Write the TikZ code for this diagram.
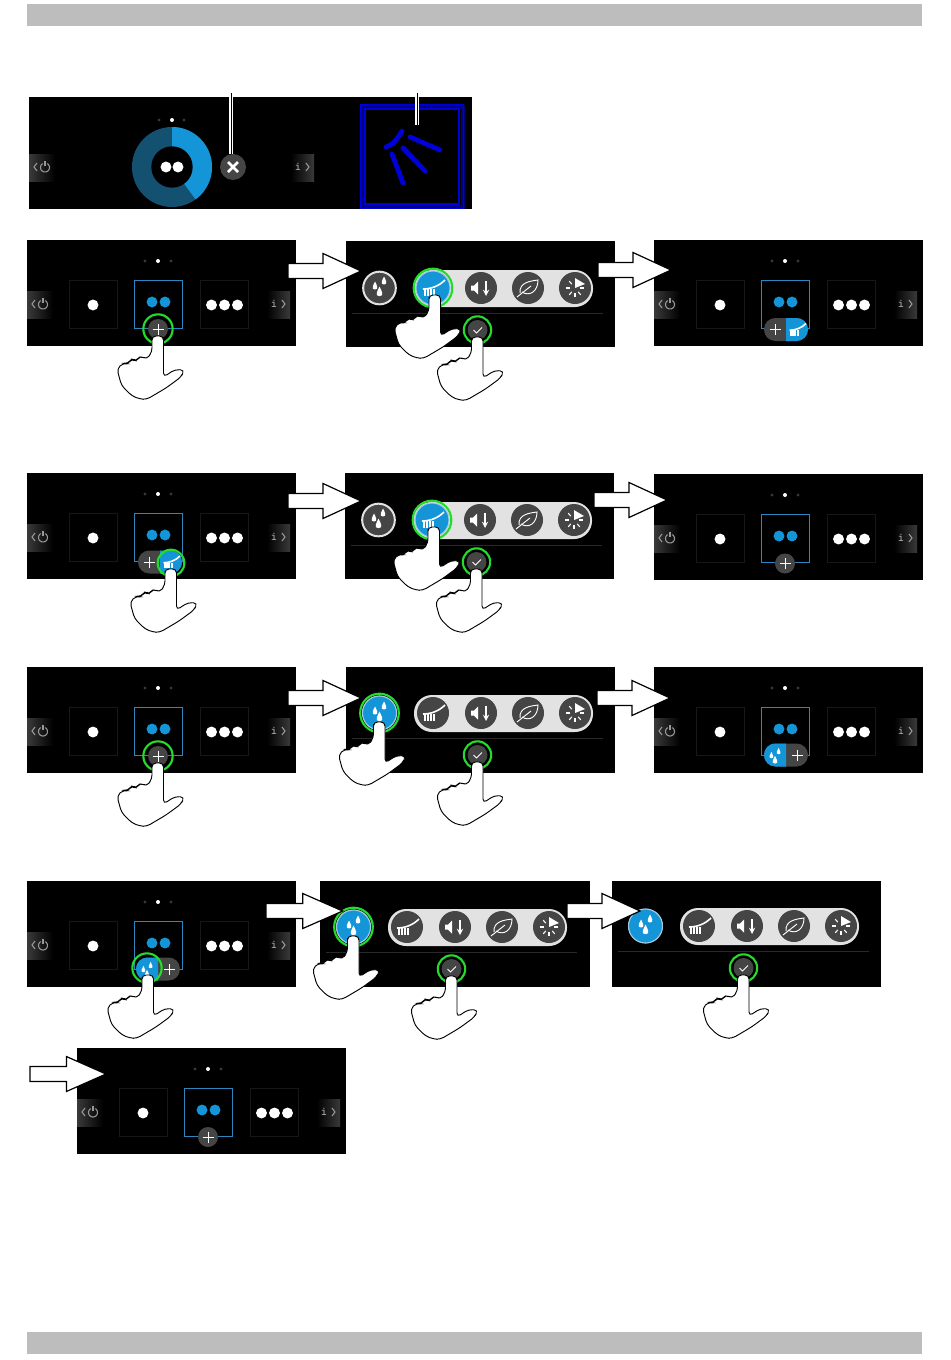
\documentclass[tikz,border=0pt]{standalone}
\usetikzlibrary{arrows, calc}
\definecolor{bargray}{HTML}{BDBDBD}
\definecolor{btngray}{HTML}{454545}
\definecolor{pillgray}{HTML}{E2E2E2}
\definecolor{tabgray}{HTML}{3A3A3A}
\definecolor{iconblue}{HTML}{1495D8}
\definecolor{darkblue}{HTML}{14506F}
\definecolor{tileblue}{HTML}{2F86BE}
\definecolor{ringgreen}{HTML}{25DB2C}
\definecolor{markblue}{HTML}{0000D8}
\tikzstyle{panelbody} = [rectangle, fill=black, anchor=north west, inner sep=0pt, minimum width=201.75pt, minimum height=79.5pt]
\tikzstyle{tile} = [rectangle, draw=white!9!black, line width=0.6pt, inner sep=0pt, minimum size=36pt]
\tikzstyle{midtile} = [tile, draw=tileblue, line width=0.9pt, minimum size=36.5pt]
\tikzstyle{dot} = [circle, fill=white, inner sep=0pt, minimum size=8.2pt]
\tikzstyle{bluedot} = [dot, fill=iconblue]
\tikzstyle{pagedot} = [circle, fill=white!22!black, inner sep=0pt, minimum size=2.5pt]
\tikzstyle{roundbtn} = [circle, fill=btngray, inner sep=0pt, minimum size=15pt]
\tikzstyle{iconbtn} = [circle, fill=btngray, inner sep=0pt, minimum size=24pt]
\tikzstyle{waterbtn} = [iconbtn, draw=pillgray, line width=1.5pt, minimum size=24.5pt]
\tikzstyle{bluebtn} = [iconbtn, fill=iconblue, draw=pillgray!70!iconblue, line width=0.8pt, minimum size=25.5pt]
\tikzstyle{ring} = [circle, draw=ringgreen, line width=1.6pt, inner sep=0pt, minimum size=22pt]
\tikzstyle{bigring} = [ring, minimum size=29pt]
\tikzstyle{smallring} = [ring, minimum size=20.5pt]
\tikzstyle{glyph} = [white, line width=0.7pt]
\tikzstyle{leader} = [black, line width=0.75pt, preaction={draw=white, line width=2.8pt}]
\tikzset{
  lefttab/.pic={
    \shade[left color=tabgray, right color=black] (0,0) rectangle (26,27);
    \draw[white!60!black, line width=0.8pt] (8,9) -- (5,13) -- (8,17);
    \draw[white!60!black, line width=0.8pt] plot[domain=-60:240, samples=20] ({16+4.5*cos(\x)},{13.5+4.5*sin(\x)});
    \draw[white!60!black, line width=0.8pt] (16,7) -- (16,12);
  },
  righttab/.pic={
    \shade[left color=black, right color=tabgray] (0,0) rectangle (23,27);
    \node (-info) [text=white!70!black, font=\ttfamily\small, inner sep=0pt] at (7,13) {i};
    \draw[white!60!black, line width=0.8pt] (15,9) -- (18,13) -- (15,17);
  },
  plusglyph/.pic={
    \draw[glyph] (-5.5,0) -- (5.5,0) (0,-5.5) -- (0,5.5);
  },
  checkglyph/.pic={
    \draw[glyph] (-4,0) -- (-1,3) -- (4.5,-2.5);
  },
  dropsglyph/.pic={
    \foreach \dx/\dy/\ds in {0/4/1.2, -4.5/-2/1, 4.5/-7/1} {
      \fill[white] (\dx,\dy-4.5*\ds) .. controls (\dx+1.5*\ds,\dy-1.5*\ds) and (\dx+4.5*\ds,\dy+3.5*\ds) .. (\dx,\dy+3.5*\ds) .. controls (\dx-4.5*\ds,\dy+3.5*\ds) and (\dx-1.5*\ds,\dy-1.5*\ds) .. cycle;
    }
  },
  brushglyph/.pic={
    \draw[white, line width=1.2pt] (-10,1) .. controls (-2,1) and (6,-2) .. (12,-8);
    \foreach \bx in {-9,-7.5,...,2} {
      \draw[white, line width=0.6pt] (\bx,1) -- (\bx,8);
    }
  },
  soundglyph/.pic={
    \fill[white] (-10,-2.5) -- (-7,-2.5) -- (-3,-6.5) -- (-3,6.5) -- (-7,2.5) -- (-10,2.5) -- cycle;
    \draw[white, line width=1.1pt, ->, >=stealth] (5,-7) -- (5,8);
  },
  leafglyph/.pic={
    \draw[glyph] (-8,5) .. controls (-9,-6) and (3,-7) .. (10,-8) .. controls (10,3) and (2,9) .. (-6,4);
    \draw[glyph] (-11,9) -- (3,-2);
  },
  speedglyph/.pic={
    \fill[white] (0,-10) -- (10,-4) -- (0,0) -- cycle;
    \foreach \ang in {0,50,90,130,180,230} {
      \draw[white, line width=0.8pt] ({5*cos(\ang)},{5*sin(\ang)}) -- ({9*cos(\ang)},{9*sin(\ang)});
    }
  },
  homepanel/.pic={
    \node (-body) [panelbody] at (0,0) {};
    \node (-page1) [pagedot] at (118,21) {};
    \node (-page2) [pagedot, fill=white, minimum size=3pt] at (131,21) {};
    \node (-page3) [pagedot] at (144,21) {};
    \pic at (0,51) {lefttab};
    \pic at (240,51) {righttab};
    \node (-one) [tile] at (66,64.5) {};
    \node (-two) [midtile] at (131.5,64.5) {};
    \node (-three) [tile] at (197,64.5) {};
    \node (-d1) [dot] at (66,65) {};
    \node (-d2) [bluedot] at (125,62) {};
    \node (-d3) [bluedot] at (138,62) {};
    \node (-d4) [dot] at (184.5,65) {};
    \node (-d5) [dot] at (197.5,65) {};
    \node (-d6) [dot] at (210.5,65) {};
  },
  plusbtn/.pic={
    \node (-btn) [roundbtn] at (0,0) {};
    \pic at (0,0) {plusglyph};
  },
  optbuttons/.pic={
    \fill[pillgray, rounded corners=13.5pt] (68,29) rectangle (247,66);
    \node (-water) [waterbtn] at (33.5,47) {};
    \node (-brush) [iconbtn] at (87,47) {};
    \node (-sound) [iconbtn] at (135,47) {};
    \node (-leaf) [iconbtn] at (182,47) {};
    \node (-speed) [iconbtn] at (229,47) {};
    \pic at (33.5,47) {dropsglyph};
    \pic at (87,47) {brushglyph};
    \pic at (135,47) {soundglyph};
    \pic at (182,47) {leafglyph};
    \pic at (229,47) {speedglyph};
    \draw[white!16!black, line width=0.5pt] (6,72) -- (257,72);
    \node (-check) [roundbtn] at (131.5,89) {};
    \pic at (131.5,89) {checkglyph};
  },
  brushpill/.pic={
    \fill[btngray, rounded corners=8.5pt] (-22,-11.5) rectangle (22,11.5);
    \begin{scope}
      \clip (0,-13) rectangle (24,13);
      \fill[iconblue, rounded corners=8.5pt] (-22,-11.5) rectangle (22,11.5);
    \end{scope}
    \pic at (-11,0) {plusglyph};
    \pic[scale=0.75] at (11,0) {brushglyph};
  },
  droppill/.pic={
    \fill[btngray, rounded corners=8.5pt] (-22,-11.5) rectangle (22,11.5);
    \begin{scope}
      \clip (-24,-13) rectangle (0,13);
      \fill[iconblue, rounded corners=8.5pt] (-22,-11.5) rectangle (22,11.5);
    \end{scope}
    \pic[scale=0.8] at (-11,2) {dropsglyph};
    \pic at (11,0) {plusglyph};
  },
  hand/.pic={
    \filldraw[fill=white, draw=black, line width=0.7pt, rounded corners=3pt]
      (-6,5) -- (-6,-1) -- (5.5,-1) -- (5.5,40) -- (17,32.5) -- (26.5,33) -- (23,40)
      -- (8,51) -- (-11.5,62.5) -- (-18,62) -- (-26,59) -- (-36.5,48.5) -- (-41,32)
      -- (-35,26) -- (-30,27) -- (-26.5,21.5) -- (-21.5,24.5) -- (-18,18.5)
      -- (-11.5,22.5) -- (-6,15) -- cycle;
  },
  bigarrow/.pic={
    \filldraw[fill=white, draw=black, line width=0.9pt]
      (0,-7.5) -- (35,-7.5) -- (35,-17.5) -- (73,0) -- (35,17.5) -- (35,7.5) -- (0,7.5) -- cycle;
  }
}

\begin{document}
\begin{tikzpicture}[x=0.75pt, y=-0.75pt]
\useasboundingbox (0,0) rectangle (950,1360);

% Bars
\node (topbar) [rectangle, fill=bargray, anchor=north west, inner sep=0pt, minimum width=671.25pt, minimum height=16.5pt] at (27,4) {};
\node (botbar) [rectangle, fill=bargray, anchor=north west, inner sep=0pt, minimum width=671.25pt, minimum height=16.5pt] at (27,1332) {};

% Status panel
\node (status) [panelbody, minimum width=332.25pt, minimum height=84pt] at (29,97) {};
\node (st1) [pagedot] at (159,120) {};
\node (st2) [pagedot, fill=white, minimum size=3pt] at (172,120) {};
\node (st3) [pagedot] at (184,120) {};
\pic at (29,154) {lefttab};
\pic at (291,154) {righttab};
\node (donut) [circle, fill=darkblue, inner sep=0pt, minimum size=60pt] at (172,167) {};
\fill[iconblue] (172,167) -- plot[domain=-90:54, samples=40] ({172+40*cos(\x)},{167+40*sin(\x)}) -- cycle;
\node (hole) [circle, fill=black, inner sep=0pt, minimum size=31pt] at (172,167) {};
\node (sd1) [dot] at (166,167) {};
\node (sd2) [dot] at (178,167) {};
\node (xbtn) [roundbtn, minimum size=19.5pt] at (233,167) {};
\draw[white, line width=1.9pt] (228,162) -- (238,172) (238,162) -- (228,172);
\node (markbox) [rectangle, draw=markblue!60!black, line width=3.6pt, anchor=north west, inner sep=0pt, minimum width=75pt, minimum height=75pt] at (360.5,104.5) {};
\draw[markblue, line width=0.8pt] (360.5,104.5) rectangle (463.5,208.5) (365,109) rectangle (459,204);
\draw[markblue, line width=3.6pt, line cap=round] (386,147) .. controls (393,145) and (398,138) .. (402,131);
\draw[markblue, line width=3.6pt, line cap=round] (410,137) -- (440,150) (403,148) -- (425,171) (392,154) -- (403,183);
\coordinate (lead1) at (231,93);
\coordinate (lead2) at (417,93);
\coordinate (leadend) at (417,125);
\draw[leader] (lead1) -- (lead1 |- xbtn.north);
\draw[leader] (lead2) -- (leadend);

% Row 1
\pic (h1) at (27,240) {homepanel};
\pic (pb1) at (158,329) {plusbtn};
\node (r1) [ring] at (pb1-btn) {};
\node (b1) [panelbody] at (346,241) {};
\pic (o1) at (346,241) {optbuttons};
\node (s1) [bluebtn] at (o1-brush) {};
\pic at (o1-brush) {brushglyph};
\node (r2) [bigring] at (o1-brush) {};
\node (r3) [smallring] at (o1-check) {};
\pic (h2) at (654,240) {homepanel};
\pic at (786,329.5) {brushpill};

% Row 2
\pic (h3) at (27,473) {homepanel};
\pic at (160,562) {brushpill};
\node (r4) [ring, minimum size=20pt] at (171,563) {};
\node (b2) [panelbody] at (345,473) {};
\pic (o2) at (345,473) {optbuttons};
\node (s2) [bluebtn] at (o2-brush) {};
\pic at (o2-brush) {brushglyph};
\node (r5) [bigring] at (o2-brush) {};
\node (r6) [smallring] at (o2-check) {};
\pic (h4) at (654,474) {homepanel};
\pic at (785,563.5) {plusbtn};

% Row 3
\pic (h5) at (27,667) {homepanel};
\pic (pb2) at (158,756) {plusbtn};
\node (r7) [ring] at (pb2-btn) {};
\node (b3) [panelbody] at (346,667) {};
\pic (o3) at (346,666) {optbuttons};
\node (s3) [bluebtn] at (o3-water) {};
\pic at (o3-water) {dropsglyph};
\node (r8) [bigring] at (o3-water) {};
\node (r9) [smallring] at (o3-check) {};
\pic (h6) at (654,667) {homepanel};
\pic at (786,755) {droppill};

% Row 4
\pic (h7) at (27,881) {homepanel};
\pic at (158,969) {droppill};
\node (r10) [ring] at (147,968) {};
\node (b4) [panelbody, minimum width=202.5pt] at (320,881) {};
\pic (o4) at (320,880) {optbuttons};
\node (s4) [bluebtn] at (o4-water) {};
\pic at (o4-water) {dropsglyph};
\node (r11) [bigring] at (o4-water) {};
\node (r12) [smallring] at (o4-check) {};
\node (b5) [panelbody] at (612,881) {};
\pic (o5) at (612,879) {optbuttons};
\node (s5) [bluebtn] at (o5-water) {};
\pic at (o5-water) {dropsglyph};
\node (r13) [smallring] at (o5-check) {};

% Row 5
\pic (h8) at (77,1048) {homepanel};
\pic at (208,1137) {plusbtn};

% Arrows
\pic at (288,271) {bigarrow};
\pic at (598,270) {bigarrow};
\pic at (288,501) {bigarrow};
\pic at (594,500) {bigarrow};
\pic at (288,698) {bigarrow};
\pic at (597,698) {bigarrow};
\pic[xscale=1.05] at (266,911) {bigarrow};
\pic at (567,911) {bigarrow};
\pic[xscale=1.04] at (30,1074) {bigarrow};

% Hands
\pic at ($(pb1-btn)+(0,8)$) {hand};
\pic at ($(o1-brush)+(2,8)$) {hand};
\pic at ($(o1-check)+(0,8)$) {hand};
\pic at (171,570) {hand};
\pic at ($(o2-brush)+(2,8)$) {hand};
\pic at ($(o2-check)+(0,8)$) {hand};
\pic at ($(pb2-btn)+(0,8)$) {hand};
\pic at ($(o3-water)+(0,10)$) {hand};
\pic at ($(o3-check)+(0,8)$) {hand};
\pic at (148,976) {hand};
\pic at ($(o4-water)+(0,10)$) {hand};
\pic at ($(o4-check)+(0,8)$) {hand};
\pic at ($(o5-check)+(0,8)$) {hand};

\end{tikzpicture}
\end{document}
